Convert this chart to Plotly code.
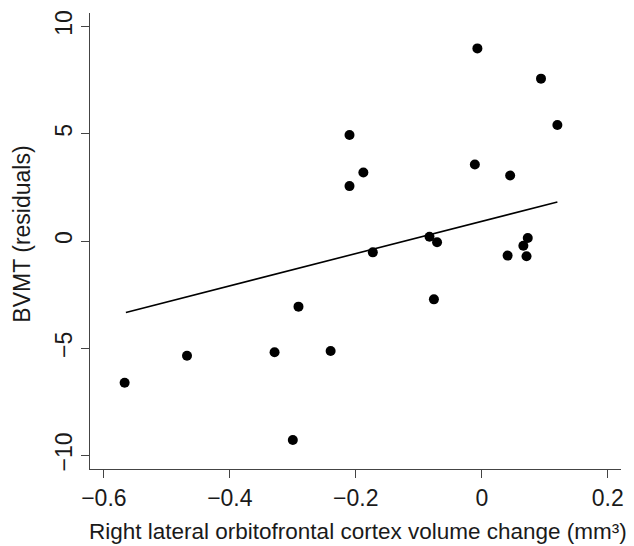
import plotly.graph_objects as go

# Data
volume_change = [-0.567, -0.468, -0.329, -0.300, -0.291, -0.240, -0.210, -0.210, -0.188, -0.173,
                 -0.083, -0.076, -0.071, -0.011, -0.007, 0.041, 0.045, 0.066, 0.071, 0.073,
                 0.094, 0.120]
bvmt_residuals = [-6.61, -5.35, -5.19, -9.28, -3.06, -5.13, 4.94, 2.56, 3.19, -0.53,
                  0.20, -2.72, -0.06, 3.57, 8.98, -0.68, 3.05, -0.22, -0.71, 0.14,
                  7.57, 5.41]
fit_x = [-0.565, 0.120]
fit_y = [-3.33, 1.82]

x_tickvals = [-0.6, -0.4, -0.2, 0, 0.2]
x_ticktext = ["\u22120.6", "\u22120.4", "\u22120.2", "0", "0.2"]
y_tickvals = [-10, -5, 0, 5, 10]
y_ticktext = ["\u221210", "\u22125", "0", "5", "10"]

x_title = "Right lateral orbitofrontal cortex volume change (mm\u00b3)"
y_title = "BVMT (residuals)"

FONT = "Liberation Sans, Arial, sans-serif"

fig = go.Figure()
fig.add_trace(go.Scatter(x=fit_x, y=fit_y, mode="lines",
                         line=dict(color="black", width=1.6), showlegend=False))
fig.add_trace(go.Scatter(x=volume_change, y=bvmt_residuals, mode="markers",
                         marker=dict(color="black", size=10), showlegend=False))

axis_common = dict(showgrid=False, zeroline=False, showline=True, linecolor="#444",
                   linewidth=1.3, ticks="outside", ticklen=8, tickwidth=1.3, tickcolor="#444",
                   tickfont=dict(family=FONT, size=23, color="#1a1a1a"), automargin=False)

# page body has an 8px margin, so the figure is drawn 8px smaller and shifted
fig.update_layout(
    width=626, height=538,
    margin=dict(l=82, r=13, t=5, b=77),
    plot_bgcolor="white", paper_bgcolor="white",
    xaxis=dict(range=[-0.622, 0.221], tickvals=x_tickvals, ticktext=x_ticktext, **axis_common),
    yaxis=dict(range=[-10.63, 10.63], tickvals=y_tickvals, ticktext=y_ticktext,
               tickangle=-90, **axis_common),
    annotations=[
        dict(text=x_title, xref="paper", yref="paper", x=0.505, y=-0.136,
             xanchor="center", yanchor="middle", showarrow=False,
             font=dict(family=FONT, size=22.5, color="#1a1a1a")),
        dict(text=y_title, xref="paper", yref="paper", x=-0.128, y=0.514,
             xanchor="center", yanchor="middle", showarrow=False, textangle=-90,
             font=dict(family=FONT, size=23, color="#1a1a1a")),
    ],
)

fig.write_html("out.html")
